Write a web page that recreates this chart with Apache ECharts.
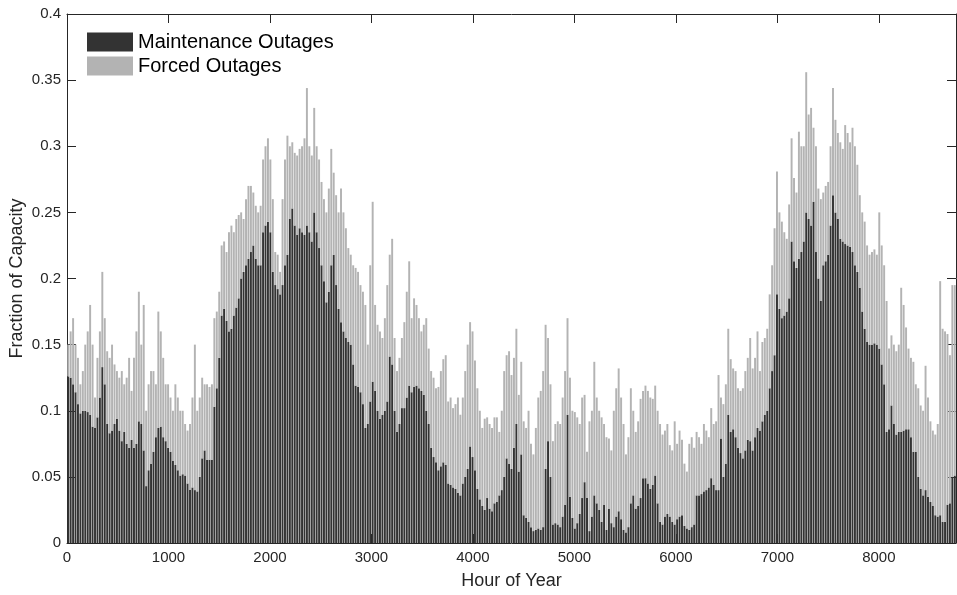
<!DOCTYPE html>
<html>
<head>
<meta charset="utf-8">
<script src="https://cdn.jsdelivr.net/npm/echarts@6/dist/echarts.min.js"></script>
<style>
  html, body { margin: 0; padding: 0; background: #fff; }
  #chart { width: 957px; height: 595px; }
</style>
</head>
<body>
<div id="chart"></div>
<script>
// daily values (365 days)
const maintenance = [
  .126,.125,.12,.114,.105,.098,.10,.10,.099,.097,
  .088,.087,.095,.11,.133,.12,.09,.083,.085,.09,
  .094,.085,.077,.084,.075,.072,.078,.072,.075,.092,
  .09,.07,.043,.055,.06,.069,.08,.087,.088,.08,
  .077,.072,.069,.062,.059,.055,.051,.052,.051,.045,
  .04,.042,.04,.039,.05,.064,.07,.063,.063,.063,
  .103,
  .117,.14,.172,.177,.168,.16,.162,.172,.178,.185,
  .20,.205,.21,.215,.22,.225,.215,.21,.21,.235,
  .24,.243,.235,.205,.195,.192,.188,.195,.21,.218,
  .245,.253,.24,.233,.238,.235,.233,.24,.235,.228,
  .25,.235,.223,.21,.198,.182,.19,.21,.218,.195,
  .177,.167,.16,.155,.152,.15,.135,.119,.118,.114,
  .105,.087,
  .09,.107,.122,.115,.10,.094,.097,.10,.107,.141,
  .135,.10,.084,.09,.102,.102,.11,.119,.114,.118,
  .119,.117,.115,.112,.10,.09,.072,.065,.061,.055,
  .058,.061,.059,.045,.044,.042,.041,.038,.036,.045,
  .05,.056,.073,.065,.055,.041,.033,.028,.025,.034,
  .026,.024,.03,.031,.036,.04,.05,.064,.06,.056,
  .072,.09,
  .054,.067,.021,.019,.016,.012,.009,.01,.011,.01,
  .012,.056,.077,.05,.014,.015,.014,.012,.02,.029,
  .097,.035,.019,.011,.015,.022,.034,.046,.034,.009,
  .02,.036,.03,.025,.016,.029,.01,.026,.015,.012,
  .02,.024,.018,.01,.008,.012,.03,.036,.026,.028,
  .034,.049,.049,.045,.041,.044,.051,.03,.016,.014,
  .02,.022,
  .02,.016,.014,.018,.02,.021,.013,.011,.01,.012,
  .014,.036,.036,.037,.039,.04,.042,.049,.044,.04,
  .04,.079,.05,.06,.097,.084,.086,.08,.072,.068,
  .064,.07,.078,.077,.07,.08,.087,.085,.092,.097,
  .10,.117,.13,.142,.188,.177,.17,.172,.175,.185,
  .228,.213,.208,.215,.22,.228,.25,.245,.24,.258,
  .22,.20,
  .183,.21,.213,.218,.24,.263,.25,.245,.23,.228,
  .226,.225,.224,.22,.21,.205,.193,.175,.162,.152,
  .15,.15,.151,.15,.147,.135,.12,.084,.086,.104,
  .09,.082,.084,.084,.085,.086,.086,.08,.069,.069,
  .05,.041,.036,.04,.035,.031,.028,.021,.02,.021,
  .016,.016,.029,.03,.05,.051
];

// top of each stacked bar (maintenance + forced)
const totalOutage = [
  .15,.16,.17,.15,.14,.12,.13,.15,.16,.18,
  .15,.11,.14,.16,.205,.17,.145,.14,.15,.135,
  .13,.125,.13,.12,.125,.14,.115,.14,.16,.19,
  .15,.18,.10,.12,.13,.13,.12,.175,.16,.14,
  .12,.12,.11,.10,.12,.11,.10,.10,.09,.085,
  .09,.11,.15,.10,.11,.125,.12,.12,.118,.12,
  .17,
  .175,.19,.225,.228,.22,.235,.24,.235,.245,.248,
  .25,.245,.26,.27,.27,.265,.255,.25,.255,.29,
  .30,.306,.29,.26,.22,.218,.205,.26,.29,.308,
  .30,.303,.295,.293,.298,.30,.306,.344,.30,.293,
  .329,.30,.29,.273,.26,.25,.268,.298,.28,.263,
  .25,.268,.25,.238,.223,.218,.21,.208,.205,.195,
  .19,.18,
  .15,.21,.258,.18,.165,.16,.155,.17,.195,.218,
  .23,.155,.13,.14,.155,.167,.19,.213,.17,.185,
  .18,.17,.16,.165,.17,.147,.13,.125,.117,.118,
  .13,.139,.142,.107,.11,.102,.105,.11,.097,.11,
  .13,.15,.167,.16,.138,.117,.10,.087,.094,.095,
  .09,.087,.095,.095,.084,.10,.13,.142,.145,.127,
  .14,.162,
  .112,.137,.092,.087,.10,.075,.067,.087,.11,.115,
  .13,.165,.155,.12,.077,.09,.092,.09,.11,.13,
  .17,.125,.10,.099,.095,.09,.11,.112,.069,.092,
  .10,.137,.11,.10,.095,.09,.08,.079,.07,.10,
  .117,.132,.11,.09,.067,.08,.117,.10,.084,.092,
  .109,.115,.119,.115,.11,.109,.119,.10,.09,.082,
  .085,.09,
  .074,.07,.092,.075,.085,.078,.06,.054,.075,.08,
  .072,.084,.08,.075,.09,.085,.08,.102,.09,.092,
  .127,.11,.105,.12,.162,.139,.132,.13,.117,.115,
  .117,.13,.14,.155,.132,.14,.16,.13,.152,.155,
  .162,.188,.21,.238,.281,.25,.243,.235,.23,.256,
  .306,.276,.265,.311,.30,.30,.356,.324,.329,.314,
  .30,.268,
  .26,.265,.27,.273,.30,.344,.32,.31,.303,.298,
  .316,.31,.303,.314,.30,.286,.263,.25,.243,.225,
  .218,.22,.222,.218,.25,.225,.21,.183,.147,.157,
  .15,.145,.15,.193,.18,.163,.147,.14,.137,.12,
  .117,.104,.10,.134,.11,.092,.085,.082,.09,.198,
  .162,.16,.158,.142,.195,.195
];

const seriesNames = ['Maintenance Outages', 'Forced Outages'];
const hoursPerYear = 8760;

// one category per day, labelled by its first hour
const dayStart = maintenance.map((_, i) => i * 24);
const forced = totalOutage.map((t, i) => Math.max(0, +(t - maintenance[i]).toFixed(4)));

const font = 'Liberation Sans, Helvetica, Arial, sans-serif';
const axisColor = '#262626';

const hourAxis = (position, showLabels) => ({
  type: 'value',
  position: position,
  min: 0,
  max: hoursPerYear,
  interval: 1000,
  axisLine: { show: true, onZero: false, lineStyle: { color: axisColor, width: 1 } },
  axisTick: { show: true, inside: true, length: 9, lineStyle: { color: axisColor } },
  axisLabel: {
    show: showLabels,
    fontFamily: font, fontSize: 15, color: axisColor, margin: 7,
    showMaxLabel: false,
    formatter: v => String(v)
  },
  splitLine: { show: false }
});

const fracAxis = (position, showLabels) => ({
  type: 'value',
  position: position,
  min: 0,
  max: 0.4,
  interval: 0.05,
  axisLine: { show: true, onZero: false, lineStyle: { color: axisColor, width: 1 } },
  axisTick: { show: true, inside: true, length: 9, lineStyle: { color: axisColor } },
  axisLabel: { show: showLabels, fontFamily: font, fontSize: 15, color: axisColor, margin: 6 },
  splitLine: { show: false }
});

const bottomAxis = Object.assign(hourAxis('bottom', true), {
  name: 'Hour of Year',
  nameLocation: 'middle',
  nameGap: 29,
  nameMoveOverlap: false,
  nameTextStyle: { fontFamily: font, fontSize: 18, color: axisColor }
});

const leftAxis = Object.assign(fracAxis('left', true), {
  name: 'Fraction of Capacity',
  nameLocation: 'middle',
  nameGap: 41,
  nameMoveOverlap: false,
  nameTextStyle: { fontFamily: font, fontSize: 18, color: axisColor }
});

const option = {
  animation: false,
  backgroundColor: '#fff',
  grid: { left: 67, right: 1, top: 14, bottom: 52, containLabel: false, outerBoundsMode: 'none' },
  legend: {
    orient: 'vertical',
    left: 87,
    top: 32,
    padding: 0,
    itemWidth: 46,
    itemHeight: 19,
    itemGap: 4,
    icon: 'rect',
    selectedMode: false,
    data: seriesNames,
    textStyle: { fontFamily: font, fontSize: 20, color: '#000' }
  },
  xAxis: [
    {
      // day categories carry the bars
      type: 'category',
      data: dayStart,
      boundaryGap: true,
      show: false
    },
    bottomAxis,
    hourAxis('top', false)
  ],
  yAxis: [leftAxis, fracAxis('right', false)],
  series: [
    {
      name: seriesNames[0],
      type: 'bar',
      stack: 'outages',
      barWidth: '80%',
      itemStyle: { color: '#333333' },
      data: maintenance
    },
    {
      name: seriesNames[1],
      type: 'bar',
      stack: 'outages',
      barWidth: '80%',
      itemStyle: { color: '#b3b3b3' },
      data: forced
    }
  ]
};

const chart = echarts.init(document.getElementById('chart'));
chart.setOption(option);
</script>
</body>
</html>
